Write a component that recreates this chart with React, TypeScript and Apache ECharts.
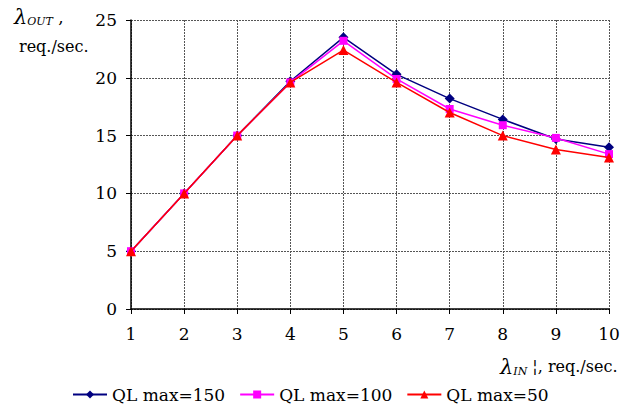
import React, { useEffect, useRef } from "react";
import * as echarts from "echarts";

const xValues = [1, 2, 3, 4, 5, 6, 7, 8, 9, 10];
const ql150 = [5, 10, 15, 19.7, 23.5, 20.3, 18.2, 16.4, 14.7, 14.0];
const ql100 = [5, 10, 15, 19.6, 23.2, 19.9, 17.3, 15.9, 14.8, 13.4];
const ql50 = [5, 10, 15, 19.6, 22.4, 19.6, 17.0, 15.0, 13.8, 13.1];
const seriesNames = ["QL max=150", "QL max=100", "QL max=50"];

const FONT = "DejaVu Serif";

export default function App() {
  const ref = useRef<HTMLDivElement>(null);
  useEffect(() => {
    if (!ref.current) return;
    const chart = echarts.init(ref.current, null, { renderer: "svg" });
    const pair = (ys: number[]) => xValues.map((x, i) => [x, ys[i]]);
    chart.setOption({
      animation: false,
      backgroundColor: "#fff",
      textStyle: { fontFamily: FONT },
      grid: { left: 131, right: 18, top: 20, bottom: 96 },
      xAxis: {
        type: "value",
        min: 1,
        max: 10,
        interval: 1,
        axisLine: { lineStyle: { color: "#000", width: 1.5 } },
        axisTick: { show: true, length: 5, lineStyle: { color: "#000" } },
        axisLabel: { color: "#000", fontSize: 17, fontFamily: FONT, margin: 16 },
        splitLine: { show: true, lineStyle: { color: "#555", type: [2, 1], width: 1 } },
      },
      yAxis: {
        type: "value",
        min: 0,
        max: 25,
        interval: 5,
        axisLine: { show: true, lineStyle: { color: "#000", width: 1.5 } },
        axisTick: { show: true, length: 5, lineStyle: { color: "#000" } },
        axisLabel: { color: "#000", fontSize: 17, fontFamily: FONT, margin: 14 },
        splitLine: { show: true, lineStyle: { color: "#555", type: [2, 1], width: 1 } },
      },
      legend: {
        left: 67,
        top: 381,
        itemWidth: 34,
        itemHeight: 10,
        itemGap: 14,
        textStyle: { color: "#000", fontSize: 17, fontFamily: FONT },
        data: seriesNames,
      },
      series: [
        {
          name: seriesNames[0],
          type: "line",
          data: pair(ql150),
          color: "#000080",
          symbol: "diamond",
          symbolSize: 10,
          lineStyle: { width: 1.5, color: "#000080" },
          itemStyle: { color: "#000080" },
          z: 3,
        },
        {
          name: seriesNames[1],
          type: "line",
          data: pair(ql100),
          color: "#ff00ff",
          symbol: "rect",
          symbolSize: 8,
          lineStyle: { width: 1.5, color: "#ff00ff" },
          itemStyle: { color: "#ff00ff" },
          z: 4,
        },
        {
          name: seriesNames[2],
          type: "line",
          data: pair(ql50),
          color: "#ff0000",
          symbol: "triangle",
          symbolSize: 10,
          lineStyle: { width: 1.5, color: "#ff0000" },
          itemStyle: { color: "#ff0000" },
          z: 5,
        },
      ],
      graphic: [
        {
          type: "text",
          left: 14,
          top: 6,
          style: {
            text: "{a|λ}{b|OUT}{c| ,}",
            rich: {
              a: { fontFamily: FONT, fontStyle: "italic", fontSize: 21, fill: "#000" },
              b: { fontFamily: FONT, fontStyle: "italic", fontSize: 11, fill: "#000", padding: [9, 0, 0, 0] },
              c: { fontFamily: FONT, fontSize: 17, fill: "#000" },
            },
          },
        },
        {
          type: "text",
          left: 19,
          top: 38,
          style: { text: "req./sec.", fontFamily: FONT, fontSize: 16, fill: "#000" },
        },
        {
          type: "text",
          left: 500,
          top: 356,
          style: {
            text: "{a|λ}{b|IN}{c| ¦, req./sec.}",
            rich: {
              a: { fontFamily: FONT, fontStyle: "italic", fontSize: 21, fill: "#000" },
              b: { fontFamily: FONT, fontStyle: "italic", fontSize: 11, fill: "#000", padding: [9, 0, 0, 0] },
              c: { fontFamily: FONT, fontSize: 16, fill: "#000" },
            },
          },
        },
      ],
    });
    return () => chart.dispose();
  }, []);
  return <div ref={ref} style={{ width: 627, height: 405, position: "absolute", left: 0, top: 0 }} />;
}
